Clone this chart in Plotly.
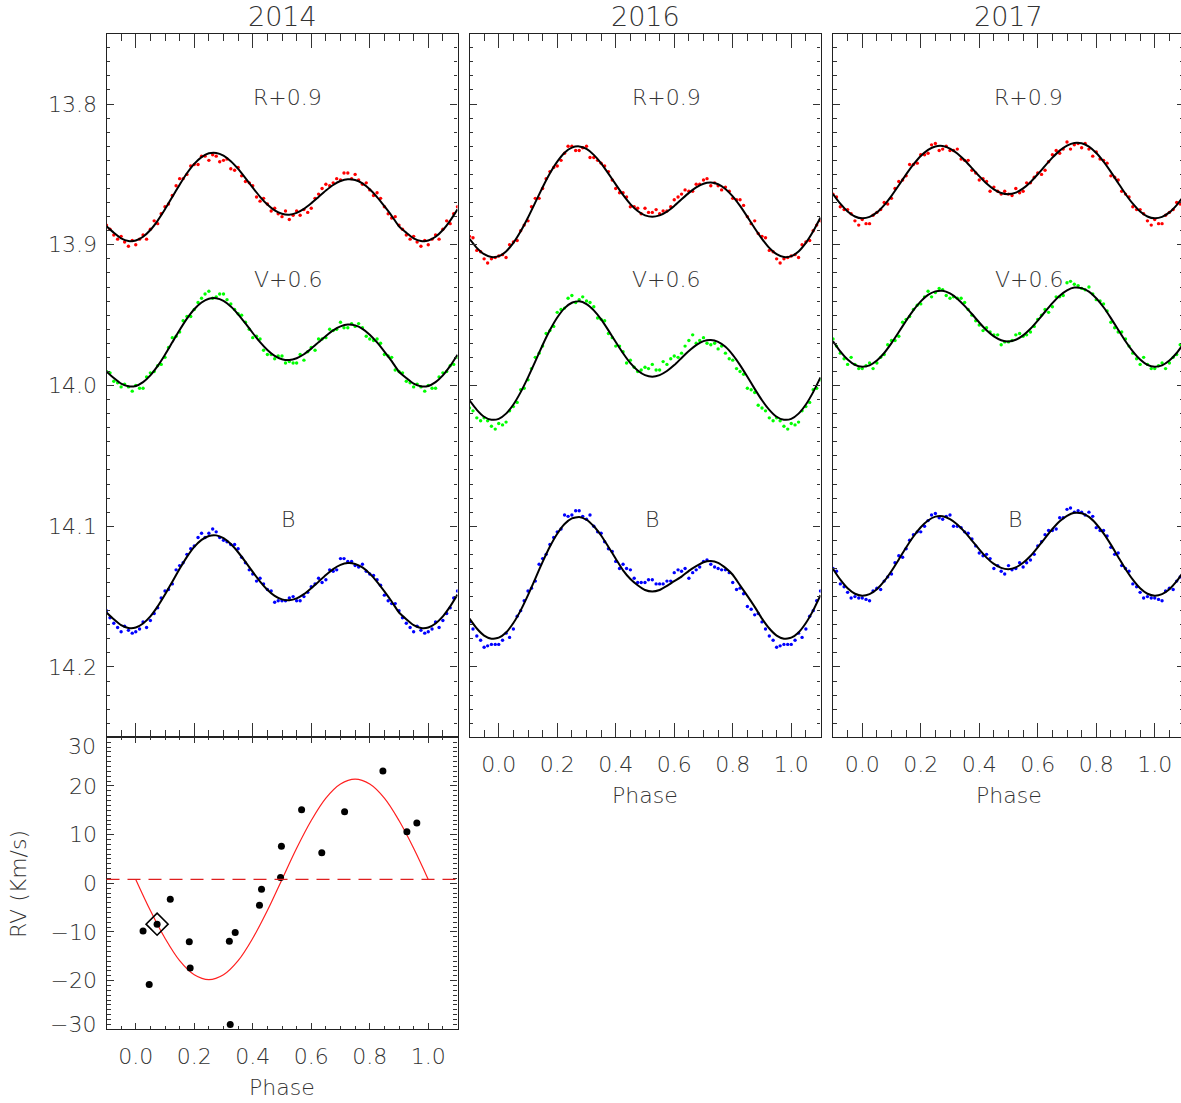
import plotly.graph_objects as go

# ---------------- data ----------------
YEARS = ["2014", "2016", "2017"]
BAND_LABELS = ["R+0.9", "V+0.6", "B"]
BAND_COLORS = ["#ff0000", "#00ff00", "#0000ff"]

MODEL_PHASE = [0.000, 0.025, 0.050, 0.075, 0.100, 0.125, 0.150, 0.175, 0.200, 0.225,
               0.250, 0.275, 0.300, 0.325, 0.350, 0.375, 0.400, 0.425, 0.450, 0.475,
               0.500, 0.525, 0.550, 0.575, 0.600, 0.625, 0.650, 0.675, 0.700, 0.725,
               0.750, 0.775, 0.800, 0.825, 0.850, 0.875, 0.900, 0.925, 0.950, 0.975]

OBS_PHASE = [0.000, 0.025, 0.050, 0.075, 0.100, 0.125, 0.150, 0.175, 0.200, 0.225,
             0.250, 0.275, 0.300, 0.325, 0.350, 0.375, 0.400, 0.425, 0.450, 0.475,
             0.500, 0.525, 0.550, 0.575, 0.600, 0.625, 0.650, 0.675, 0.700, 0.725,
             0.750, 0.775, 0.800, 0.825, 0.850, 0.875, 0.900, 0.925, 0.950, 0.975,
             0.013, 0.037, 0.063, 0.087, 0.112, 0.138, 0.162, 0.188, 0.213, 0.237,
             0.263, 0.287, 0.312, 0.338, 0.362, 0.388, 0.413, 0.437, 0.463, 0.487,
             0.512, 0.538, 0.562, 0.588, 0.613, 0.637, 0.663, 0.687, 0.712, 0.738,
             0.762, 0.788, 0.813, 0.837, 0.863, 0.887, 0.912, 0.938, 0.962, 0.988]

# 2014
R14_MODEL = [13.8970, 13.8943, 13.8895, 13.8828, 13.8748, 13.8660, 13.8573, 13.8492, 13.8425, 13.8377,
             13.8350, 13.8347, 13.8366, 13.8406, 13.8461, 13.8526, 13.8594, 13.8659, 13.8714, 13.8756,
             13.8780, 13.8786, 13.8773, 13.8745, 13.8705, 13.8660, 13.8615, 13.8575, 13.8547, 13.8534,
             13.8540, 13.8564, 13.8606, 13.8661, 13.8726, 13.8794, 13.8869, 13.8914, 13.8954, 13.8973]
R14_OBS = [13.900, 13.893, 13.889, 13.885, 13.873, 13.865, 13.853, 13.850, 13.843, 13.837,
           13.840, 13.837, 13.840, 13.846, 13.845, 13.855, 13.858, 13.869, 13.871, 13.874,
           13.880, 13.882, 13.876, 13.875, 13.874, 13.864, 13.857, 13.856, 13.854, 13.849,
           13.850, 13.857, 13.861, 13.863, 13.873, 13.881, 13.886, 13.893, 13.894, 13.901,
           13.896, 13.896, 13.883, 13.878, 13.871, 13.858, 13.853, 13.844, 13.843, 13.837,
           13.836, 13.841, 13.839, 13.847, 13.851, 13.856, 13.866, 13.867, 13.876, 13.878,
           13.876, 13.879, 13.879, 13.877, 13.867, 13.860, 13.858, 13.853, 13.849, 13.853,
           13.854, 13.856, 13.865, 13.867, 13.878, 13.880, 13.889, 13.896, 13.898, 13.897]
V14_MODEL = [14.0003, 13.9976, 13.9928, 13.9861, 13.9781, 13.9693, 13.9606, 13.9525, 13.9458, 13.9410,
             13.9383, 13.9380, 13.9399, 13.9439, 13.9494, 13.9559, 13.9627, 13.9692, 13.9747, 13.9789,
             13.9813, 13.9819, 13.9806, 13.9778, 13.9738, 13.9693, 13.9648, 13.9608, 13.9580, 13.9567,
             13.9573, 13.9597, 13.9639, 13.9694, 13.9759, 13.9827, 13.9902, 13.9947, 13.9987, 14.0006]
V14_OBS = [14.000, 14.002, 13.991, 13.986, 13.980, 13.966, 13.962, 13.951, 13.946, 13.938,
           13.933, 13.937, 13.935, 13.942, 13.949, 13.955, 13.966, 13.967, 13.978, 13.981,
           13.979, 13.983, 13.984, 13.982, 13.973, 13.967, 13.966, 13.961, 13.955, 13.959,
           13.958, 13.959, 13.967, 13.967, 13.978, 13.980, 13.990, 13.997, 14.001, 14.001,
           14.002, 13.994, 13.990, 13.985, 13.973, 13.965, 13.954, 13.951, 13.941, 13.935,
           13.938, 13.935, 13.939, 13.946, 13.950, 13.960, 13.965, 13.975, 13.978, 13.979,
           13.984, 13.984, 13.978, 13.976, 13.975, 13.967, 13.960, 13.960, 13.959, 13.956,
           13.956, 13.965, 13.968, 13.970, 13.979, 13.989, 13.991, 13.998, 13.999, 14.004]
B14_MODEL = [14.1720, 14.1691, 14.1641, 14.1570, 14.1486, 14.1394, 14.1303, 14.1218, 14.1147, 14.1097,
             14.1069, 14.1065, 14.1085, 14.1127, 14.1185, 14.1253, 14.1325, 14.1393, 14.1451, 14.1495,
             14.1520, 14.1526, 14.1513, 14.1483, 14.1441, 14.1394, 14.1347, 14.1305, 14.1275, 14.1262,
             14.1268, 14.1293, 14.1337, 14.1395, 14.1463, 14.1535, 14.1613, 14.1661, 14.1703, 14.1723]
B14_OBS = [14.175, 14.168, 14.167, 14.158, 14.146, 14.141, 14.128, 14.120, 14.114, 14.105,
           14.105, 14.104, 14.110, 14.113, 14.116, 14.126, 14.134, 14.137, 14.145, 14.154,
           14.153, 14.151, 14.153, 14.150, 14.143, 14.137, 14.138, 14.132, 14.123, 14.125,
           14.128, 14.127, 14.134, 14.138, 14.149, 14.155, 14.160, 14.169, 14.175, 14.174,
           14.173, 14.172, 14.162, 14.151, 14.145, 14.131, 14.126, 14.116, 14.108, 14.108,
           14.102, 14.108, 14.111, 14.113, 14.122, 14.131, 14.139, 14.141, 14.146, 14.153,
           14.153, 14.150, 14.153, 14.147, 14.141, 14.140, 14.131, 14.131, 14.123, 14.125,
           14.129, 14.132, 14.135, 14.142, 14.153, 14.155, 14.165, 14.172, 14.171, 14.176]

# 2016
R16_MODEL = [13.9081, 13.9047, 13.8986, 13.8904, 13.8806, 13.8699, 13.8591, 13.8492, 13.8409, 13.8346,
             13.8310, 13.8301, 13.8319, 13.8361, 13.8421, 13.8494, 13.8571, 13.8646, 13.8711, 13.8760,
             13.8791, 13.8801, 13.8791, 13.8764, 13.8724, 13.8677, 13.8631, 13.8592, 13.8566, 13.8558,
             13.8570, 13.8603, 13.8656, 13.8724, 13.8802, 13.8882, 13.8958, 13.9022, 13.9067, 13.9087]
R16_OBS = [13.908, 13.909, 13.898, 13.890, 13.883, 13.867, 13.860, 13.848, 13.844, 13.835,
           13.830, 13.833, 13.830, 13.838, 13.842, 13.848, 13.860, 13.863, 13.873, 13.874,
           13.874, 13.877, 13.878, 13.876, 13.868, 13.864, 13.862, 13.857, 13.854, 13.858,
           13.858, 13.859, 13.867, 13.868, 13.880, 13.883, 13.894, 13.904, 13.910, 13.910,
           13.907, 13.900, 13.897, 13.886, 13.873, 13.867, 13.853, 13.845, 13.840, 13.830,
           13.833, 13.831, 13.838, 13.840, 13.844, 13.854, 13.863, 13.866, 13.873, 13.878,
           13.877, 13.875, 13.876, 13.873, 13.866, 13.861, 13.862, 13.857, 13.853, 13.856,
           13.861, 13.862, 13.868, 13.872, 13.885, 13.892, 13.895, 13.905, 13.913, 13.909]
V16_MODEL = [14.0237, 14.0200, 14.0135, 14.0047, 13.9942, 13.9828, 13.9712, 13.9606, 13.9517, 13.9450,
             13.9412, 13.9402, 13.9421, 13.9466, 13.9530, 13.9608, 13.9691, 13.9771, 13.9841, 13.9893,
             13.9926, 13.9937, 13.9926, 13.9897, 13.9855, 13.9804, 13.9755, 13.9713, 13.9685, 13.9677,
             13.9690, 13.9725, 13.9782, 13.9855, 13.9938, 14.0024, 14.0105, 14.0173, 14.0222, 14.0243]
V16_OBS = [14.027, 14.026, 14.015, 14.003, 13.996, 13.980, 13.972, 13.961, 13.948, 13.945,
           13.936, 13.939, 13.940, 13.944, 13.953, 13.963, 13.972, 13.976, 13.982, 13.990,
           13.987, 13.985, 13.989, 13.985, 13.979, 13.977, 13.968, 13.970, 13.966, 13.971,
           13.974, 13.977, 13.982, 13.990, 14.002, 14.005, 14.016, 14.023, 14.023, 14.029,
           14.028, 14.018, 14.012, 14.002, 13.988, 13.977, 13.963, 13.958, 13.946, 13.938,
           13.941, 13.937, 13.941, 13.952, 13.954, 13.966, 13.972, 13.984, 13.987, 13.989,
           13.988, 13.989, 13.983, 13.981, 13.980, 13.972, 13.964, 13.968, 13.970, 13.970,
           13.972, 13.981, 13.988, 13.992, 14.003, 14.014, 14.018, 14.025, 14.025, 14.031]
B16_MODEL = [14.1792, 14.1755, 14.1688, 14.1598, 14.1490, 14.1372, 14.1253, 14.1144, 14.1053, 14.0984,
             14.0944, 14.0934, 14.0954, 14.1000, 14.1066, 14.1147, 14.1231, 14.1314, 14.1375, 14.1419,
             14.1453, 14.1464, 14.1453, 14.1424, 14.1390, 14.1358, 14.1317, 14.1284, 14.1256, 14.1247,
             14.1260, 14.1296, 14.1345, 14.1420, 14.1495, 14.1573, 14.1657, 14.1727, 14.1777, 14.1799]
B16_OBS = [14.184, 14.176, 14.173, 14.160, 14.146, 14.139, 14.123, 14.113, 14.104, 14.092,
           14.092, 14.089, 14.095, 14.100, 14.105, 14.116, 14.125, 14.127, 14.131, 14.140,
           14.140, 14.138, 14.141, 14.139, 14.133, 14.132, 14.137, 14.131, 14.125, 14.127,
           14.130, 14.131, 14.140, 14.144, 14.157, 14.163, 14.168, 14.178, 14.186, 14.184,
           14.181, 14.179, 14.164, 14.153, 14.144, 14.127, 14.120, 14.108, 14.102, 14.093,
           14.089, 14.093, 14.092, 14.104, 14.111, 14.118, 14.130, 14.130, 14.137, 14.140,
           14.138, 14.141, 14.141, 14.139, 14.131, 14.130, 14.133, 14.129, 14.124, 14.129,
           14.131, 14.133, 14.145, 14.148, 14.159, 14.162, 14.173, 14.181, 14.185, 14.184]

# 2017
R17_MODEL = [13.8812, 13.8802, 13.8770, 13.8718, 13.8652, 13.8577, 13.8500, 13.8429, 13.8369, 13.8325,
             13.8301, 13.8298, 13.8316, 13.8351, 13.8399, 13.8455, 13.8512, 13.8565, 13.8606, 13.8632,
             13.8640, 13.8629, 13.8599, 13.8555, 13.8499, 13.8439, 13.8381, 13.8331, 13.8295, 13.8276,
             13.8279, 13.8303, 13.8348, 13.8409, 13.8482, 13.8561, 13.8639, 13.8708, 13.8763, 13.8799]
R17_OBS = [13.882, 13.885, 13.877, 13.870, 13.867, 13.855, 13.851, 13.843, 13.836, 13.835,
           13.828, 13.832, 13.833, 13.832, 13.840, 13.847, 13.854, 13.855, 13.859, 13.864,
           13.864, 13.860, 13.862, 13.856, 13.849, 13.847, 13.836, 13.835, 13.827, 13.829,
           13.831, 13.832, 13.834, 13.840, 13.851, 13.854, 13.864, 13.873, 13.875, 13.883,
           13.885, 13.879, 13.875, 13.871, 13.860, 13.854, 13.843, 13.842, 13.836, 13.829,
           13.833, 13.830, 13.833, 13.839, 13.840, 13.849, 13.853, 13.862, 13.862, 13.862,
           13.865, 13.863, 13.856, 13.852, 13.850, 13.841, 13.833, 13.832, 13.832, 13.828,
           13.828, 13.837, 13.839, 13.842, 13.852, 13.862, 13.866, 13.875, 13.878, 13.886]
V17_MODEL = [13.9867, 13.9857, 13.9823, 13.9769, 13.9699, 13.9620, 13.9540, 13.9465, 13.9402, 13.9356,
             13.9331, 13.9327, 13.9346, 13.9383, 13.9434, 13.9492, 13.9552, 13.9608, 13.9651, 13.9678,
             13.9687, 13.9675, 13.9644, 13.9597, 13.9539, 13.9476, 13.9415, 13.9362, 13.9324, 13.9304,
             13.9308, 13.9333, 13.9380, 13.9444, 13.9521, 13.9604, 13.9686, 13.9758, 13.9816, 13.9854]
V17_OBS = [13.988, 13.984, 13.984, 13.978, 13.968, 13.965, 13.953, 13.946, 13.942, 13.933,
           13.934, 13.932, 13.938, 13.938, 13.941, 13.950, 13.957, 13.959, 13.964, 13.971,
           13.969, 13.964, 13.965, 13.962, 13.953, 13.946, 13.944, 13.937, 13.927, 13.928,
           13.931, 13.930, 13.939, 13.942, 13.955, 13.962, 13.967, 13.977, 13.985, 13.985,
           13.986, 13.988, 13.980, 13.971, 13.968, 13.955, 13.951, 13.943, 13.937, 13.937,
           13.931, 13.936, 13.937, 13.938, 13.946, 13.954, 13.961, 13.962, 13.964, 13.969,
           13.968, 13.963, 13.964, 13.958, 13.950, 13.948, 13.937, 13.936, 13.926, 13.929,
           13.932, 13.935, 13.940, 13.947, 13.959, 13.962, 13.972, 13.981, 13.980, 13.988]
B17_MODEL = [14.1494, 14.1483, 14.1448, 14.1391, 14.1318, 14.1236, 14.1151, 14.1073, 14.1007, 14.0959,
             14.0932, 14.0929, 14.0949, 14.0987, 14.1040, 14.1102, 14.1164, 14.1223, 14.1268, 14.1296,
             14.1305, 14.1293, 14.1260, 14.1212, 14.1150, 14.1084, 14.1020, 14.0965, 14.0926, 14.0905,
             14.0908, 14.0934, 14.0984, 14.1051, 14.1131, 14.1218, 14.1304, 14.1380, 14.1441, 14.1480]
B17_OBS = [14.151, 14.153, 14.144, 14.139, 14.134, 14.121, 14.116, 14.106, 14.104, 14.096,
           14.091, 14.095, 14.092, 14.100, 14.104, 14.109, 14.119, 14.120, 14.130, 14.132,
           14.128, 14.130, 14.129, 14.124, 14.114, 14.106, 14.103, 14.094, 14.088, 14.090,
           14.090, 14.090, 14.101, 14.103, 14.115, 14.119, 14.130, 14.141, 14.147, 14.150,
           14.152, 14.146, 14.145, 14.136, 14.126, 14.122, 14.110, 14.104, 14.100, 14.092,
           14.094, 14.093, 14.100, 14.101, 14.105, 14.114, 14.121, 14.123, 14.128, 14.134,
           14.131, 14.126, 14.126, 14.120, 14.111, 14.103, 14.102, 14.094, 14.087, 14.089,
           14.092, 14.093, 14.103, 14.107, 14.120, 14.128, 14.132, 14.143, 14.151, 14.151]

# radial velocities (2014)
RV_PHASE = [0.025, 0.046, 0.073, 0.118, 0.183, 0.186, 0.320, 0.323, 0.340, 0.423,
            0.430, 0.495, 0.498, 0.567, 0.636, 0.714, 0.845, 0.927, 0.961]
RV_VEL = [-9.8, -20.8, -8.4, -3.3, -12.0, -17.4, -11.9, -29.0, -10.1, -4.5,
          -1.2, 1.2, 7.6, 15.1, 6.3, 14.7, 23.1, 10.6, 12.4]
RV_HIGHLIGHT = 2
RV_MODEL_PHASE = [0.00, 0.05, 0.10, 0.15, 0.20, 0.25, 0.30, 0.35, 0.40, 0.45, 0.50,
                  0.55, 0.60, 0.65, 0.70, 0.75, 0.80, 0.85, 0.90, 0.95, 1.00]
RV_MODEL = [0.8, -5.6, -11.3, -15.9, -18.8, -19.8, -18.8, -15.9, -11.3, -5.6, 0.8,
            7.2, 12.9, 17.5, 20.4, 21.4, 20.4, 17.5, 12.9, 7.2, 0.8]
RV_GAMMA = 0.8

PANELS = [
    [(R14_MODEL, R14_OBS), (V14_MODEL, V14_OBS), (B14_MODEL, B14_OBS)],
    [(R16_MODEL, R16_OBS), (V16_MODEL, V16_OBS), (B16_MODEL, B16_OBS)],
    [(R17_MODEL, R17_OBS), (V17_MODEL, V17_OBS), (B17_MODEL, B17_OBS)],
]

# ---------------- layout constants (pixels) ----------------
W, H = 1185, 1103
PX_LEFT = [106.5, 469.5, 833.0]
PX_WIDTH = 351.0
LC_TOP, LC_BOT = 33.7, 737.3
RV_BOT = 1029.3
LABEL_POS = [  # (phase, mag) of band labels per panel
    [(0.52, 13.795), (0.52, 13.925), (0.52, 14.095)],
    [(0.575, 13.795), (0.572, 13.925), (0.524, 14.095)],
    [(0.570, 13.795), (0.570, 13.925), (0.522, 14.095)],
]

FONT_FAMILY = "'DejaVu Sans ExtraLight', 'DejaVu Sans', sans-serif"
TXT = "#333333"
AXC = "#222222"
TKC = "#333333"


def fx(px):
    return px / W


def fy(py):
    return 1 - py / H


def fold(ph, vals):
    xs, ys = [], []
    for p, v in zip(ph, vals):
        xs.append(p)
        ys.append(v)
        if p >= 0.9 - 1e-9:
            xs.append(p - 1.0)
            ys.append(v)
        if p <= 0.1 + 1e-9:
            xs.append(p + 1.0)
            ys.append(v)
    order = sorted(range(len(xs)), key=lambda i: xs[i])
    return [xs[i] for i in order], [ys[i] for i in order]


fig = go.Figure()

for pi, panel in enumerate(PANELS):
    xa = "x" if pi == 0 else "x%d" % (pi + 1)
    ya = "y" if pi == 0 else "y%d" % (pi + 1)
    for bi, (model, obs) in enumerate(panel):
        ox, oy = fold(OBS_PHASE, obs)
        fig.add_trace(go.Scatter(x=ox, y=oy, mode="markers", xaxis=xa, yaxis=ya,
                                 marker=dict(size=3.4, color=BAND_COLORS[bi], line=dict(width=0)),
                                 showlegend=False, hoverinfo="skip"))
        mx, my = fold(MODEL_PHASE, model)
        fig.add_trace(go.Scatter(x=mx, y=my, mode="lines", xaxis=xa, yaxis=ya,
                                 line=dict(color="black", width=2, shape="spline", smoothing=0.5),
                                 showlegend=False, hoverinfo="skip"))

# RV panel
fig.add_trace(go.Scatter(x=RV_MODEL_PHASE, y=RV_MODEL, mode="lines", xaxis="x4", yaxis="y4",
                         line=dict(color="#ff2020", width=1.2, shape="spline", smoothing=1.0),
                         showlegend=False, hoverinfo="skip"))
fig.add_trace(go.Scatter(x=RV_PHASE, y=RV_VEL, mode="markers", xaxis="x4", yaxis="y4",
                         marker=dict(size=7, color="black"), showlegend=False))
fig.add_trace(go.Scatter(x=[RV_PHASE[RV_HIGHLIGHT]], y=[RV_VEL[RV_HIGHLIGHT]], mode="markers",
                         xaxis="x4", yaxis="y4",
                         marker=dict(size=17, symbol="diamond-open", color="black", line=dict(width=1.6)),
                         showlegend=False))

tickfont = dict(family=FONT_FAMILY, size=22, color=TXT, weight=200)


def xaxis(domain, rng, labels, anchor, tl, mtl):
    return dict(domain=domain, range=rng, anchor=anchor, showline=True, linecolor=AXC, linewidth=1.3,
                mirror="allticks", ticks="inside", ticklen=tl, tickwidth=1, tickcolor=TKC,
                tickmode="linear", tick0=0, dtick=0.2, tickformat=".1f", showticklabels=labels,
                tickfont=tickfont, ticklabelstandoff=7,
                minor=dict(ticks="inside", ticklen=mtl, tickwidth=1, tickcolor=TKC,
                           tickmode="linear", tick0=0, dtick=0.05, showgrid=False),
                showgrid=False, zeroline=False)


def yaxis_lc(domain, labels, anchor):
    return dict(domain=domain, range=[14.25, 13.75], anchor=anchor, showline=True, linecolor=AXC,
                linewidth=1.3, mirror="allticks", ticks="inside", ticklen=7, tickwidth=1,
                tickcolor=TKC, tickmode="linear", tick0=13.8, dtick=0.1, tickformat=".1f",
                showticklabels=labels, tickfont=tickfont, ticklabelstandoff=4,
                minor=dict(ticks="inside", ticklen=3.5, tickwidth=1, tickcolor=TKC,
                           tickmode="linear", tick0=13.8, dtick=0.01, showgrid=False),
                showgrid=False, zeroline=False)


YLC = [fy(LC_BOT), fy(LC_TOP)]
YRV = [fy(RV_BOT), fy(LC_BOT)]
doms = [[fx(l), fx(l + PX_WIDTH)] for l in PX_LEFT]

layout = dict(
    width=W, height=H, margin=dict(l=0, r=0, t=0, b=0),
    paper_bgcolor="white", plot_bgcolor="white", showlegend=False,
    xaxis=xaxis(doms[0], [-0.1, 1.1], False, "y", 14, 7),
    yaxis=yaxis_lc(YLC, True, "x"),
    xaxis2=xaxis(doms[1], [-0.1, 1.1], True, "y2", 14, 7),
    yaxis2=yaxis_lc(YLC, False, "x2"),
    xaxis3=xaxis(doms[2], [-0.1, 1.1], True, "y3", 14, 7),
    yaxis3=yaxis_lc(YLC, False, "x3"),
    xaxis4=xaxis(doms[0], [-0.1, 1.1], True, "y4", 6, 3),
    yaxis4=dict(domain=YRV, range=[-30, 30], anchor="x4", showline=True, linecolor=AXC, linewidth=1.3,
                mirror="allticks", ticks="inside", ticklen=7, tickwidth=1, tickcolor=TKC,
                tickmode="array", tickvals=[-30, -20, -10, 0, 10, 20, 30],
                ticktext=["", "\u221220", "\u221210", "0", "10", "20", ""],
                tickfont=tickfont, ticklabelstandoff=4,
                minor=dict(ticks="inside", ticklen=4, tickwidth=1, tickcolor=TKC,
                           tickmode="linear", tick0=0, dtick=1, showgrid=False),
                showgrid=False, zeroline=False),
)

txtfont = dict(family=FONT_FAMILY, size=22, color=TXT, weight=200)
annotations = []
for pi, year in enumerate(YEARS):
    cx = PX_LEFT[pi] + PX_WIDTH / 2
    annotations.append(dict(text=year, xref="paper", yref="paper", x=fx(cx), y=1.0,
                            xanchor="center", yanchor="top", showarrow=False, borderpad=0,
                            font=dict(family=FONT_FAMILY, size=27, color=TXT, weight=200)))
    xa = "x" if pi == 0 else "x%d" % (pi + 1)
    ya = "y" if pi == 0 else "y%d" % (pi + 1)
    for bi, lab in enumerate(BAND_LABELS):
        px_, my_ = LABEL_POS[pi][bi]
        annotations.append(dict(text=lab, xref=xa, yref=ya, x=px_, y=my_, xanchor="center",
                                yanchor="middle", showarrow=False, font=txtfont))
    if pi > 0:
        annotations.append(dict(text="Phase", xref="paper", yref="paper", x=fx(cx), y=fy(795),
                                xanchor="center", yanchor="middle", showarrow=False, font=txtfont))
annotations.append(dict(text="Phase", xref="paper", yref="paper", x=fx(PX_LEFT[0] + PX_WIDTH / 2),
                        y=fy(1087), xanchor="center", yanchor="middle", showarrow=False, font=txtfont))
annotations.append(dict(text="RV (Km/s)", xref="paper", yref="paper", x=fx(18), y=fy(884),
                        xanchor="center", yanchor="middle", textangle=-90, showarrow=False, font=txtfont))
annotations.append(dict(text="30", xref="paper", yref="paper", x=fx(98), y=fy(746.5),
                        xanchor="right", yanchor="middle", showarrow=False, font=txtfont))
annotations.append(dict(text="\u221230", xref="paper", yref="paper", x=fx(98), y=fy(1024),
                        xanchor="right", yanchor="middle", showarrow=False, font=txtfont))
layout["annotations"] = annotations
layout["shapes"] = [dict(type="line", xref="x4 domain", yref="y4", x0=0, x1=1, y0=RV_GAMMA, y1=RV_GAMMA,
                         line=dict(color="#e02020", width=1.2, dash="13px,8px"))]

fig.update_layout(**layout)

fig.write_html("out.html", config={"displayModeBar": False},
               post_script="document.body.style.margin='0';document.body.style.overflow='hidden';"
                           "document.documentElement.style.overflow='hidden';")
